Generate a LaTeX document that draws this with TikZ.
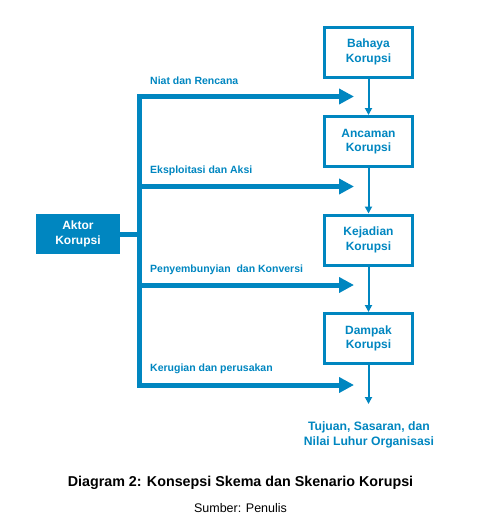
\documentclass[tikz,border=0pt]{standalone}
\usepackage{fontspec}
\setmainfont{Liberation Sans}
\usetikzlibrary{arrows.meta,positioning}
\definecolor{biru}{RGB}{0,134,192}
\tikzstyle{kotak} = [draw=biru, line width=3pt, rectangle, minimum width=88pt, minimum height=50pt, inner sep=0pt, align=center, text=biru, font=\fontsize{12}{14.5}\selectfont\bfseries]
\tikzstyle{aktorbox} = [fill=biru, rectangle, minimum width=84pt, minimum height=40pt, inner sep=0pt, align=center, text=white, font=\fontsize{12}{14.5}\selectfont\bfseries]
\tikzstyle{jalur} = [draw=biru, line width=5pt]
\tikzstyle{panahbesar} = [jalur, -{Triangle[length=15pt,width=15pt]}]
\tikzstyle{panahkecil} = [draw=biru, line width=2pt, -{Triangle[length=7pt,width=7pt]}]
\tikzstyle{label} = [anchor=west, inner sep=0pt, text=biru, font=\fontsize{10.5}{12}\selectfont\bfseries]

\begin{document}
\begin{tikzpicture}[x=1pt,y=-1pt]
	\useasboundingbox (0,0) rectangle (480,531);
	\node [kotak] (bahaya) at (368.5,52) {Bahaya\\Korupsi};
	\node [kotak] (ancaman) at (368.5,141.5) {Ancaman\\Korupsi};
	\node [kotak] (kejadian) at (368.5,240) {Kejadian\\Korupsi};
	\node [kotak] (dampak) at (368.5,338.5) {Dampak\\Korupsi};
	\node [aktorbox] (aktor) at (78,234) {Aktor\\Korupsi};
	\node [text=biru, align=center, inner sep=0pt, font=\fontsize{12.2}{15}\selectfont\bfseries] (tujuan) at (369,434.5) {Tujuan, Sasaran, dan\\Nilai Luhur Organisasi};

	\coordinate (t1) at (139,96.5);
	\coordinate (t2) at (139,186.5);
	\coordinate (t3) at (139,285);
	\coordinate (t4) at (139,385);
	\coordinate (tengah) at (139,234);
	\coordinate (n1) at (354,96.5);
	\coordinate (n2) at (354,186.5);
	\coordinate (n3) at (354,285);
	\coordinate (n4) at (354,385);
	\coordinate (akhir) at (368.5,404);

	\draw [jalur, line join=miter, {Triangle[length=15pt,width=15pt]}-{Triangle[length=15pt,width=15pt]}] (n1) -- (t1) -- (t4) -- (n4);
	\draw [panahbesar] (t2) -- (n2);
	\draw [panahbesar] (t3) -- (n3);
	\draw [jalur] (aktor.east) -- (tengah);

	\draw [panahkecil] (bahaya) -- (ancaman);
	\draw [panahkecil] (ancaman) -- (kejadian);
	\draw [panahkecil] (kejadian) -- (dampak);
	\draw [panahkecil] (dampak) -- (akhir);

	\node [label] (niat) at (150,81) {Niat dan Rencana};
	\node [label] (eksploitasi) at (150,171) {Eksploitasi dan Aksi};
	\node [label] (penyembunyian) at (150,270) {Penyembunyian\ \ dan Konversi};
	\node [label] (kerugian) at (150,369) {Kerugian dan perusakan};

	\node [font=\fontsize{14.3}{16}\selectfont\bfseries] (judul) at (240.5,483) {Diagram 2: Konsepsi Skema dan Skenario Korupsi};
	\node [font=\fontsize{12.5}{15}\selectfont] (sumber) at (240.5,508) {Sumber: Penulis};
\end{tikzpicture}
\end{document}
